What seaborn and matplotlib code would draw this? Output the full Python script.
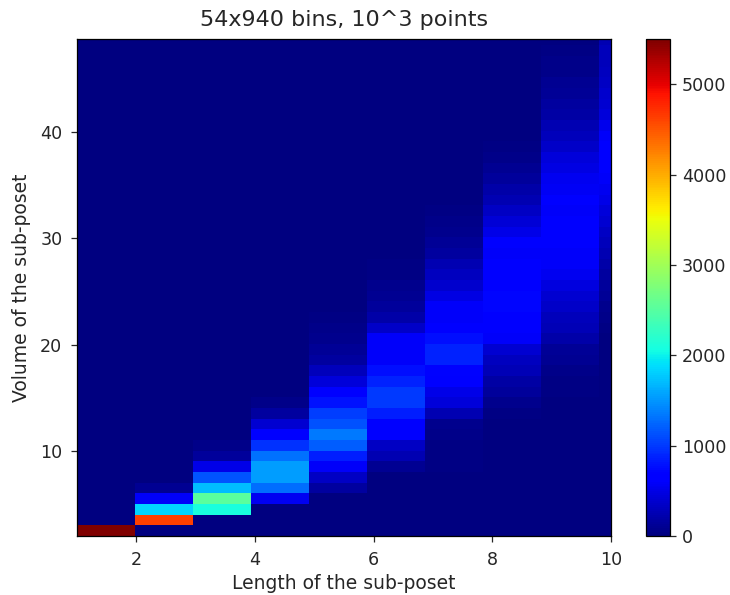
import numpy as np
import pandas as pd
import matplotlib
matplotlib.use("Agg")
import matplotlib.pyplot as plt
import seaborn as sns

TITLE = "54x940 bins, 10^3 points"
XLABEL = "Length of the sub-poset"
YLABEL = "Volume of the sub-poset"
XTICKS = [2, 4, 6, 8, 10]
YTICKS = [10, 20, 30, 40]
CBAR_TICKS = [0, 1000, 2000, 3000, 4000, 5000]

# counts per volume row (row 0 = volume 2), one list per length column
len_1 = [5500]
len_2 = [0, 4620, 1830, 600, 90, 12]
len_3 = [0, 0, 2100, 2530, 1700, 1150, 500, 150, 50, 10]
len_4 = [0, 0, 0, 550, 1270, 1530, 1530, 1300, 960, 620, 400, 170, 60, 12]
len_5 = [0, 0, 0, 5, 170, 340, 600, 850, 1200, 1350, 1130, 1020, 780, 610, 430,
         300, 170, 120, 80, 50, 30, 15]
len_6 = [0, 0, 0, 0, 5, 20, 90, 250, 340, 620, 680, 850, 1000, 1000, 860, 770,
         600, 600, 600, 350, 200, 150, 90, 70, 40, 25, 12]
len_7 = [0, 0, 0, 0, 0, 5, 30, 30, 40, 50, 80, 250, 440, 500, 620, 700, 860, 860,
         770, 650, 600, 600, 480, 370, 320, 250, 170, 120, 70, 50, 35, 20, 10]
len_8 = [0, 0, 0, 0, 0, 0, 0, 0, 5, 5, 10, 30, 80, 130, 190, 260, 320, 400, 600,
         610, 640, 730, 730, 660, 640, 620, 600, 610, 500, 420, 340, 250, 200,
         150, 100, 60, 30, 20, 15, 10, 10, 5, 5]
len_9 = [0, 0, 0, 0, 0, 0, 0, 0, 0, 0, 0, 5, 10, 30, 30, 50, 90, 120, 200, 260,
         300, 350, 400, 470, 540, 600, 600, 620, 620, 610, 600, 610, 570, 540,
         480, 450, 350, 300, 250, 190, 160, 120, 90, 60, 50, 30, 20]
len_10 = [0, 0, 0, 0, 0, 0, 0, 0, 0, 0, 0, 0, 0, 0, 0, 0, 0, 10, 20, 30, 50, 80,
          110, 140, 170, 200, 250, 300, 340, 400, 450, 500, 540, 600, 610, 620,
          610, 590, 520, 450, 400, 370, 340, 320, 300, 280, 250]

N_ROWS = 47
SUBBINS = 5  # each length occupies 5 display cells; the last one only 1
columns = [len_1, len_2, len_3, len_4, len_5, len_6, len_7, len_8, len_9, len_10]


def pad(col):
    return list(col) + [0] * (N_ROWS - len(col))


cells = {}
k = 0
for i, col in enumerate(columns):
    repeat = 1 if i == len(columns) - 1 else SUBBINS
    for _ in range(repeat):
        cells[k] = pad(col)
        k += 1
grid = pd.DataFrame(cells)
n_cols = grid.shape[1]

INK = "#262626"
sns.set_style("ticks")
plt.rcParams.update({
    "font.family": ["DejaVu Sans"],
    "axes.edgecolor": "black",
    "xtick.color": INK,
    "ytick.color": INK,
    "text.color": INK,
    "axes.labelcolor": INK,
})

W, H = 730, 595
fig = plt.figure(figsize=(W / 100, H / 100), dpi=100, facecolor="white")
ax = fig.add_axes([77 / W, 1 - 536 / H, 534 / W, 497 / H])
cax = fig.add_axes([646 / W, 1 - 536 / H, 24 / W, 497 / H])

sns.heatmap(grid, ax=ax, cbar_ax=cax, cmap="jet", vmin=0, vmax=5500,
            xticklabels=False, yticklabels=False,
            cbar_kws={"ticks": CBAR_TICKS})

ax.set_ylim(0, 46.6)
ax.set_xlim(0, n_cols)
ax.set_xticks([(v - 1) / 9 * n_cols for v in XTICKS])
ax.set_xticklabels([str(v) for v in XTICKS])
ax.set_yticks([(v - 2) * 0.997 for v in YTICKS])
ax.set_yticklabels([str(v) for v in YTICKS], rotation=0)
for s in ax.spines.values():
    s.set_visible(True)
    s.set_linewidth(0.9)
ax.tick_params(length=4, width=0.9, labelsize=12.6, direction="out",
               bottom=True, left=True)
ax.tick_params(axis="x", pad=7)
ax.tick_params(axis="y", pad=6.5)
ax.set_xlabel(XLABEL, fontsize=13.5, labelpad=3.2)
ax.set_ylabel(YLABEL, fontsize=13.5, labelpad=6.5)
ax.set_title(TITLE, fontsize=16, pad=9.7)

cb = ax.collections[0].colorbar
cb.outline.set_visible(True)
cb.outline.set_linewidth(0.9)
cb.outline.set_edgecolor("black")
cax.tick_params(length=4.5, width=0.9, labelsize=12.6, pad=4)

fig.savefig("out.png", dpi=100, facecolor="white")
